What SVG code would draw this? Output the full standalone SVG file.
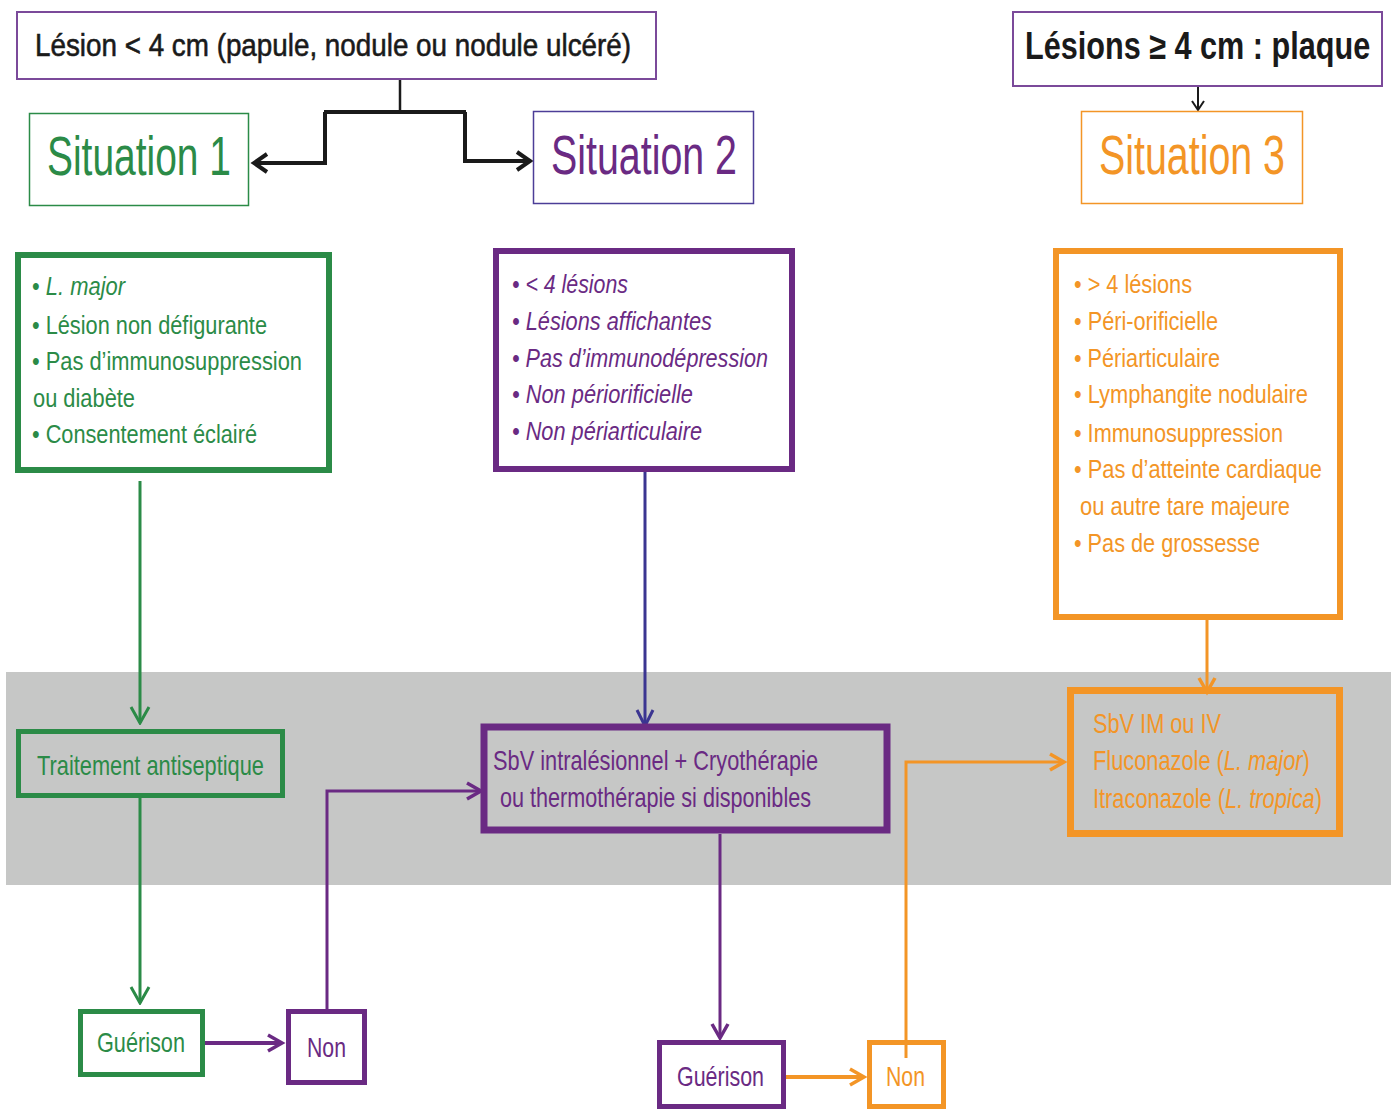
<svg xmlns="http://www.w3.org/2000/svg" width="1396" height="1110" viewBox="0 0 1396 1110">
<style>
text{font-family:"Liberation Sans",Arial,sans-serif;}
.blk{fill:#1a1a1a}
.g{fill:#2b8b47}.p{fill:#6a2a83}.o{fill:#f39526}
.it{font-style:italic}
.big{font-size:55px}
.crit{font-size:26px}
.mid{font-size:28px}
.line{fill:none;stroke-linecap:butt;stroke-linejoin:miter}
</style>
<defs>
<marker id="aBlk" viewBox="-16 -12 20 24" markerUnits="userSpaceOnUse" markerWidth="20" markerHeight="24" refX="0" refY="0" orient="auto"><path d="M-13,-9 L0,0 L-13,9" fill="none" stroke="#1a1a1a" stroke-width="4"/></marker>
<marker id="aBlkS" viewBox="-12 -8 14 16" markerUnits="userSpaceOnUse" markerWidth="14" markerHeight="16" refX="0" refY="0" orient="auto"><path d="M-9,-6 L0,0 L-9,6" fill="none" stroke="#1a1a1a" stroke-width="2"/></marker>
<marker id="aG" viewBox="-18 -12 20 24" markerUnits="userSpaceOnUse" markerWidth="20" markerHeight="24" refX="0" refY="0" orient="auto"><path d="M-16,-9 L0,0 L-16,9" fill="none" stroke="#2b8b47" stroke-width="3"/></marker>
<marker id="aP" viewBox="-16 -12 20 24" markerUnits="userSpaceOnUse" markerWidth="20" markerHeight="24" refX="0" refY="0" orient="auto"><path d="M-14,-8 L0,0 L-14,8" fill="none" stroke="#6a2a83" stroke-width="3.5"/></marker>
<marker id="aB" viewBox="-18 -12 20 24" markerUnits="userSpaceOnUse" markerWidth="20" markerHeight="24" refX="0" refY="0" orient="auto"><path d="M-16,-8 L0,0 L-16,8" fill="none" stroke="#3b3591" stroke-width="3"/></marker>
<marker id="aO" viewBox="-16 -12 20 24" markerUnits="userSpaceOnUse" markerWidth="20" markerHeight="24" refX="0" refY="0" orient="auto"><path d="M-14,-8 L0,0 L-14,8" fill="none" stroke="#f39526" stroke-width="3.5"/></marker>
</defs>
<rect width="1396" height="1110" fill="#ffffff"/>
<rect id="band" x="6" y="672" width="1385" height="213" fill="#c6c7c6"/>

<g id="connectors">
<path class="line" d="M400,79 V112" stroke="#1a1a1a" stroke-width="2.5"/>
<path class="line" d="M324,112 H466" stroke="#1a1a1a" stroke-width="4"/>
<path class="line" d="M325,112 V163 H254" stroke="#1a1a1a" stroke-width="4" marker-end="url(#aBlk)"/>
<path class="line" d="M465,112 V161 H530" stroke="#1a1a1a" stroke-width="4" marker-end="url(#aBlk)"/>
<path class="line" d="M1198,86 V110" stroke="#1a1a1a" stroke-width="2" marker-end="url(#aBlkS)"/>
<path class="line" d="M140,481 V723" stroke="#2b8b47" stroke-width="3" marker-end="url(#aG)"/>
<path class="line" d="M140,798 V1003" stroke="#2b8b47" stroke-width="3" marker-end="url(#aG)"/>
<path class="line" d="M645,472 V726" stroke="#3b3591" stroke-width="3" marker-end="url(#aB)"/>
<path class="line" d="M1207,620 V692" stroke="#f39526" stroke-width="3" marker-end="url(#aO)"/>
<path class="line" d="M199,1043 H282" stroke="#6a2a83" stroke-width="4" marker-end="url(#aP)"/>
<path class="line" d="M327,1009 V791 H481" stroke="#6a2a83" stroke-width="3" marker-end="url(#aP)"/>
<path class="line" d="M720,834 V1038" stroke="#6a2a83" stroke-width="3" marker-end="url(#aP)"/>
<path class="line" d="M785,1077 H864" stroke="#f39526" stroke-width="4" marker-end="url(#aO)"/>
<path class="line" d="M906,1050 V762 H1064" stroke="#f39526" stroke-width="3" marker-end="url(#aO)"/>
</g>

<g id="top1">
<rect x="17" y="12" width="639" height="67" fill="#fff" stroke="#7b4a9a" stroke-width="2"/>
<text class="blk" x="35" y="56" font-size="32" stroke="#1a1a1a" stroke-width="0.6" textLength="596" lengthAdjust="spacingAndGlyphs">Lésion &lt; 4 cm (papule, nodule ou nodule ulcéré)</text>
</g>
<g id="top2">
<rect x="1013" y="12" width="369" height="74" fill="#fff" stroke="#7b4a9a" stroke-width="2"/>
<text class="blk" transform="translate(1025,59) scale(0.806,1)" x="0" y="0" font-size="38" font-weight="bold">Lésions ≥ 4 cm : plaque</text>
</g>

<g id="situation1">
<rect x="29.5" y="113.5" width="219" height="92" fill="#fff" stroke="#2b8b47" stroke-width="1.5"/>
<text class="g big" x="47" y="175" textLength="184" lengthAdjust="spacingAndGlyphs">Situation 1</text>
</g>
<g id="situation2">
<rect x="533.5" y="111.5" width="220" height="92" fill="#fff" stroke="#4c3d97" stroke-width="1.5"/>
<text class="p big" x="551" y="174" textLength="186" lengthAdjust="spacingAndGlyphs">Situation 2</text>
</g>
<g id="situation3">
<rect x="1081.5" y="111.5" width="221" height="92" fill="#fff" stroke="#f39526" stroke-width="1.5"/>
<text class="o big" x="1099" y="174" textLength="186" lengthAdjust="spacingAndGlyphs">Situation 3</text>
</g>

<g id="criteria1">
<rect x="18" y="255" width="311" height="215" fill="#fff" stroke="#2b8b47" stroke-width="6"/>
<text class="g crit" transform="translate(32,295) scale(0.844,1)" x="0" y="0">• <tspan class="it">L. major</tspan></text>
<text class="g crit" x="32" y="334" textLength="235" lengthAdjust="spacingAndGlyphs">• Lésion non défigurante</text>
<text class="g crit" x="32" y="370" textLength="270" lengthAdjust="spacingAndGlyphs">• Pas d’immunosuppression</text>
<text class="g crit" x="33" y="407" textLength="102" lengthAdjust="spacingAndGlyphs">ou diabète</text>
<text class="g crit" x="32" y="443" textLength="225" lengthAdjust="spacingAndGlyphs">• Consentement éclairé</text>
</g>

<g id="criteria2">
<rect x="496" y="251" width="296" height="218" fill="#fff" stroke="#6a2a83" stroke-width="6"/>
<text class="p crit it" x="512" y="293" textLength="116" lengthAdjust="spacingAndGlyphs">• &lt; 4 lésions</text>
<text class="p crit it" x="512" y="330" textLength="200" lengthAdjust="spacingAndGlyphs">• Lésions affichantes</text>
<text class="p crit it" x="512" y="367" textLength="256" lengthAdjust="spacingAndGlyphs">• Pas d’immunodépression</text>
<text class="p crit it" x="512" y="403" textLength="181" lengthAdjust="spacingAndGlyphs">• Non périorificielle</text>
<text class="p crit it" x="512" y="440" textLength="190" lengthAdjust="spacingAndGlyphs">• Non périarticulaire</text>
</g>

<g id="criteria3">
<rect x="1056" y="251" width="284" height="366" fill="#fff" stroke="#f39526" stroke-width="6"/>
<text class="o crit" x="1074" y="293" textLength="118" lengthAdjust="spacingAndGlyphs">• &gt; 4 lésions</text>
<text class="o crit" x="1074" y="330" textLength="144" lengthAdjust="spacingAndGlyphs">• Péri-orificielle</text>
<text class="o crit" x="1074" y="367" textLength="146" lengthAdjust="spacingAndGlyphs">• Périarticulaire</text>
<text class="o crit" x="1074" y="403" textLength="234" lengthAdjust="spacingAndGlyphs">• Lymphangite nodulaire</text>
<text class="o crit" x="1074" y="442" textLength="209" lengthAdjust="spacingAndGlyphs">• Immunosuppression</text>
<text class="o crit" x="1074" y="478" textLength="248" lengthAdjust="spacingAndGlyphs">• Pas d’atteinte cardiaque</text>
<text class="o crit" x="1080" y="515" textLength="210" lengthAdjust="spacingAndGlyphs">ou autre tare majeure</text>
<text class="o crit" x="1074" y="552" textLength="186" lengthAdjust="spacingAndGlyphs">• Pas de grossesse</text>
</g>

<g id="traitement">
<rect x="18.5" y="731.5" width="264" height="64" fill="none" stroke="#2b8b47" stroke-width="5"/>
<text class="g mid" x="37" y="775" textLength="227" lengthAdjust="spacingAndGlyphs">Traitement antiseptique</text>
</g>

<g id="sbv-intra">
<rect x="484" y="727" width="403" height="103" fill="none" stroke="#6a2a83" stroke-width="7"/>
<text class="p mid" x="493" y="770" textLength="325" lengthAdjust="spacingAndGlyphs">SbV intralésionnel + Cryothérapie</text>
<text class="p mid" x="500" y="807" textLength="311" lengthAdjust="spacingAndGlyphs">ou thermothérapie si disponibles</text>
</g>

<g id="sbv-systemic">
<rect x="1070.5" y="690.5" width="269" height="143" fill="none" stroke="#f39526" stroke-width="7"/>
<text class="o mid" x="1093" y="733" textLength="128" lengthAdjust="spacingAndGlyphs">SbV IM ou IV</text>
<text class="o mid" transform="translate(1093,770) scale(0.779,1)" x="0" y="0">Fluconazole (<tspan class="it">L. major</tspan>)</text>
<text class="o mid" transform="translate(1093,808) scale(0.779,1)" x="0" y="0">Itraconazole (<tspan class="it">L. tropica</tspan>)</text>
</g>

<g id="guerison1">
<rect x="80.5" y="1011.5" width="122" height="63" fill="#fff" stroke="#2b8b47" stroke-width="5"/>
<text class="g mid" x="97" y="1052" textLength="88" lengthAdjust="spacingAndGlyphs">Guérison</text>
</g>
<g id="non1">
<rect x="288.5" y="1011.5" width="76" height="71" fill="#fff" stroke="#6a2a83" stroke-width="5"/>
<text class="p mid" x="307" y="1057" textLength="39" lengthAdjust="spacingAndGlyphs">Non</text>
</g>
<g id="guerison2">
<rect x="659.5" y="1042.5" width="124" height="64" fill="#fff" stroke="#6a2a83" stroke-width="5"/>
<text class="p mid" x="677" y="1086" textLength="87" lengthAdjust="spacingAndGlyphs">Guérison</text>
</g>
<g id="non2">
<rect x="869.5" y="1042.5" width="74" height="64" fill="#fff" stroke="#f39526" stroke-width="5"/>
<text class="o mid" x="886" y="1086" textLength="39" lengthAdjust="spacingAndGlyphs">Non</text>
</g>
<path d="M906,1045 V1058" stroke="#f39526" stroke-width="3" fill="none"/>
</svg>
